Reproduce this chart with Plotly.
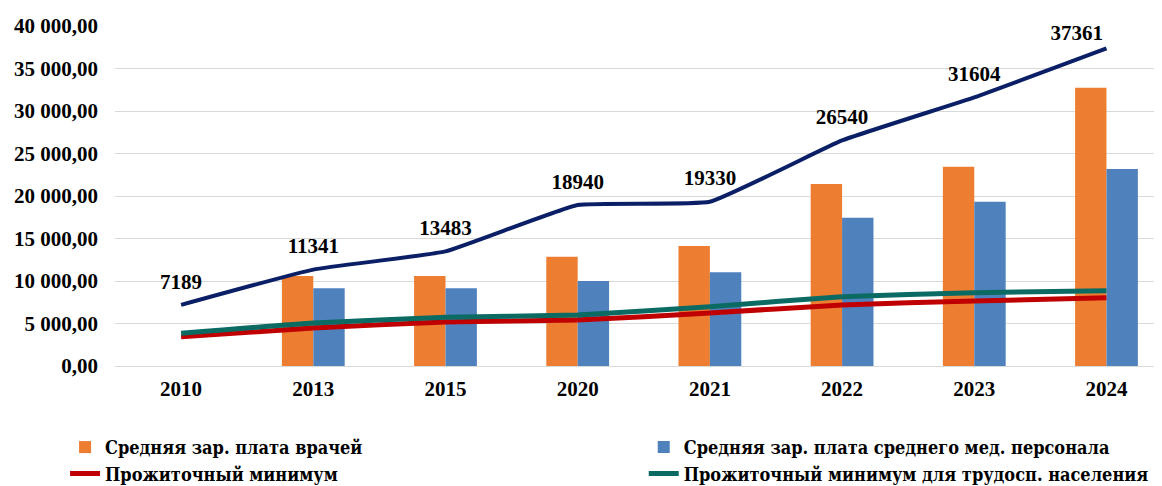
import plotly.graph_objects as go

years = ["2010", "2013", "2015", "2020", "2021", "2022", "2023", "2024"]
doctors_salary = [None, 10600, 10590, 12860, 14120, 21410, 23450, 32740]
nurses_salary = [None, 9140, 9140, 10000, 11020, 17450, 19330, 23180]
top_line = [7189, 11341, 13483, 18940, 19330, 26540, 31604, 37361]
top_labels = ["7189", "11341", "13483", "18940", "19330", "26540", "31604", "37361"]
subsistence_min = [3450, 4470, 5180, 5400, 6240, 7180, 7650, 8030]
subsistence_min_working = [3840, 5060, 5730, 6000, 6980, 8150, 8620, 8860]

names = [
    "Средняя зар. плата врачей",
    "Средняя зар. плата среднего мед. персонала",
    "Прожиточный минимум",
    "Прожиточный минимум для трудосп. населения",
]

FONT = "Times New Roman"
LEG_FONT = "DejaVu Serif Condensed, DejaVu Serif, Times New Roman"

label_pos = ["top center"] * (len(years) - 1) + ["top left"]
label_pad = [16] * (len(years) - 1) + [4]

fig = go.Figure()
fig.add_trace(go.Bar(x=years, y=doctors_salary, name=names[0], legend="legend",
                     legendgroup="a", marker=dict(color="#ED7D31", line=dict(width=0))))
fig.add_trace(go.Bar(x=years, y=nurses_salary, name=names[1], legend="legend2",
                     legendgroup="b", marker=dict(color="#4F81BD", line=dict(width=0))))
fig.add_trace(go.Scatter(x=years, y=top_line, mode="lines+markers+text", text=top_labels,
                         textposition=label_pos, showlegend=False, cliponaxis=False,
                         marker=dict(size=label_pad, opacity=0, color="#0B1F66"),
                         textfont=dict(family=FONT, size=21, color="#000000", weight="bold"),
                         line=dict(color="#0B1F66", width=4, shape="spline", smoothing=0.35)))
fig.add_trace(go.Scatter(x=years, y=subsistence_min, mode="lines", name=names[2],
                         legend="legend", legendgroup="c",
                         line=dict(color="#C00000", width=5, shape="spline", smoothing=0.4)))
fig.add_trace(go.Scatter(x=years, y=subsistence_min_working, mode="lines", name=names[3],
                         legend="legend2", legendgroup="d",
                         line=dict(color="#0B6B63", width=5, shape="spline", smoothing=0.4)))

leg_common = dict(orientation="v", y=-0.185, xanchor="left", yanchor="top",
                  traceorder="normal", tracegroupgap=12,
                  font=dict(family=LEG_FONT, size=18, color="#000000", weight="bold"))

fig.update_layout(
    width=1154, height=478,
    margin=dict(l=107, r=0, t=18, b=120, autoexpand=False),
    paper_bgcolor="white", plot_bgcolor="white",
    separators=", ",
    barmode="group", bargap=0.525, bargroupgap=0,
    font=dict(family=FONT, size=21, color="#000000", weight="bold"),
    legend=dict(x=-0.0477, **leg_common),
    legend2=dict(x=0.505, **leg_common),
)
fig.update_xaxes(type="category", range=[-0.5, 7.42], showgrid=False, automargin=False,
                 showline=False, ticks="", ticklabelstandoff=8,
                 tickfont=dict(family=FONT, size=21, color="#000000", weight="bold"))
fig.update_yaxes(range=[0, 40000], dtick=5000, tickformat=",.2f", automargin=False,
                 showgrid=True, gridcolor="#D9D9D9", gridwidth=1,
                 zeroline=True, zerolinecolor="#D9D9D9", zerolinewidth=1,
                 showline=False, ticks="", ticklabelstandoff=16,
                 tickfont=dict(family=FONT, size=21, color="#000000", weight="bold"))

fig.write_html("out.html")
